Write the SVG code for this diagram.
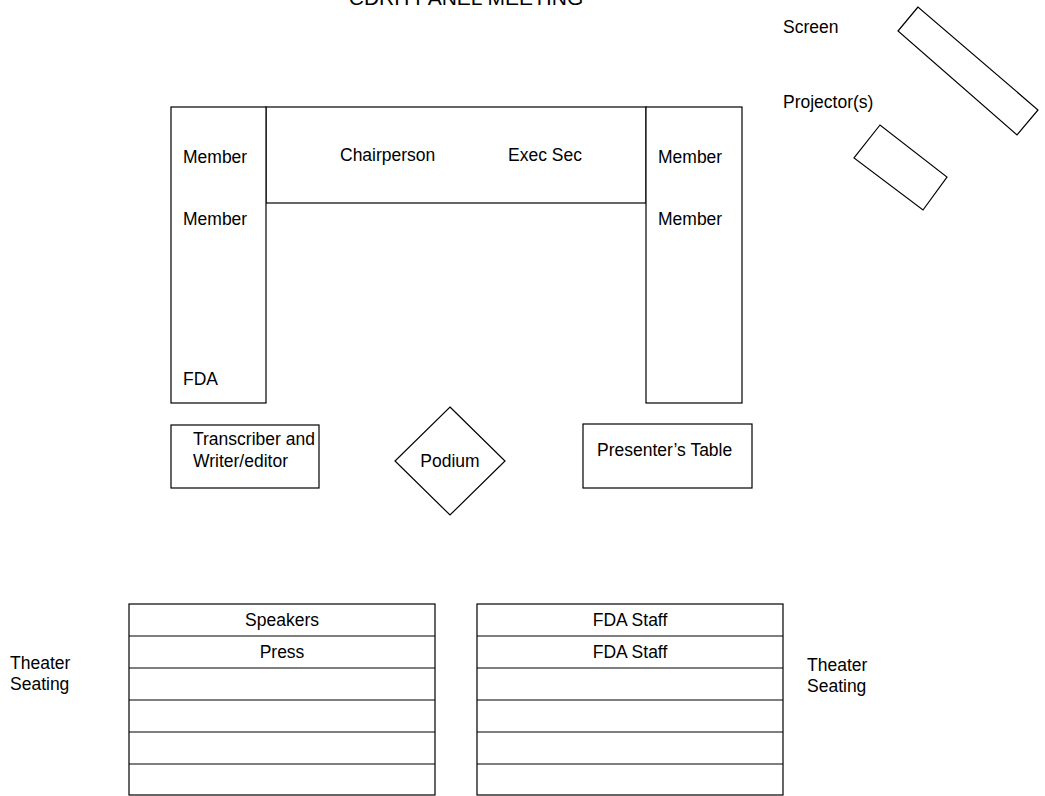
<svg xmlns="http://www.w3.org/2000/svg" width="1045" height="796" viewBox="0 0 1045 796">
<style>
.s{fill:#fff;stroke:#000;stroke-width:1.2}
.t{font-family:"Liberation Sans",Arial,sans-serif;font-size:17.5px;fill:#000}
.m{text-anchor:middle}
</style>
<rect width="1045" height="796" fill="#fff"/>
<text class="t m" x="466" y="5" style="font-size:21px">CDRH PANEL MEETING</text>
<g id="screen">
<polygon class="s" points="918,7 898,31 1017,135 1038,110"/>
<text class="t" x="783" y="33">Screen</text>
</g>
<g id="projector">
<polygon class="s" points="880,125 854,158 923,210 947,177"/>
<text class="t" x="783" y="108">Projector(s)</text>
</g>
<g id="head-table">
<rect class="s" x="266" y="107" width="380" height="96"/>
<text class="t" x="340" y="161">Chairperson</text>
<text class="t" x="508" y="161">Exec Sec</text>
</g>
<g id="left-table">
<rect class="s" x="171" y="107" width="95" height="296"/>
<text class="t" x="183" y="163">Member</text>
<text class="t" x="183" y="225">Member</text>
<text class="t" x="183" y="385">FDA</text>
</g>
<g id="right-table">
<rect class="s" x="646" y="107" width="96" height="296"/>
<text class="t" x="658" y="163">Member</text>
<text class="t" x="658" y="225">Member</text>
</g>
<g id="transcriber">
<rect class="s" x="171" y="425" width="148" height="63"/>
<text class="t" x="193" y="445">Transcriber and</text>
<text class="t" x="193" y="467">Writer/editor</text>
</g>
<g id="podium">
<polygon class="s" points="450,407 505,461 450,515 395,461"/>
<text class="t m" x="450" y="467">Podium</text>
</g>
<g id="presenter">
<rect class="s" x="583" y="424" width="169" height="64"/>
<text class="t" x="597" y="456">Presenter’s Table</text>
</g>
<g id="seating-left">
<rect class="s" x="129" y="604" width="306" height="191"/>
<line class="s" x1="129" y1="636" x2="435" y2="636"/>
<line class="s" x1="129" y1="668" x2="435" y2="668"/>
<line class="s" x1="129" y1="700" x2="435" y2="700"/>
<line class="s" x1="129" y1="732" x2="435" y2="732"/>
<line class="s" x1="129" y1="764" x2="435" y2="764"/>
<text class="t m" x="282" y="626">Speakers</text>
<text class="t m" x="282" y="658">Press</text>
</g>
<g id="seating-right">
<rect class="s" x="477" y="604" width="306" height="191"/>
<line class="s" x1="477" y1="636" x2="783" y2="636"/>
<line class="s" x1="477" y1="668" x2="783" y2="668"/>
<line class="s" x1="477" y1="700" x2="783" y2="700"/>
<line class="s" x1="477" y1="732" x2="783" y2="732"/>
<line class="s" x1="477" y1="764" x2="783" y2="764"/>
<text class="t m" x="630" y="626">FDA Staff</text>
<text class="t m" x="630" y="658">FDA Staff</text>
</g>
<g id="theater-left">
<text class="t" x="10" y="669">Theater</text>
<text class="t" x="10" y="690">Seating</text>
</g>
<g id="theater-right">
<text class="t" x="807" y="671">Theater</text>
<text class="t" x="807" y="692">Seating</text>
</g>
<g id="connectors"></g>
</svg>
